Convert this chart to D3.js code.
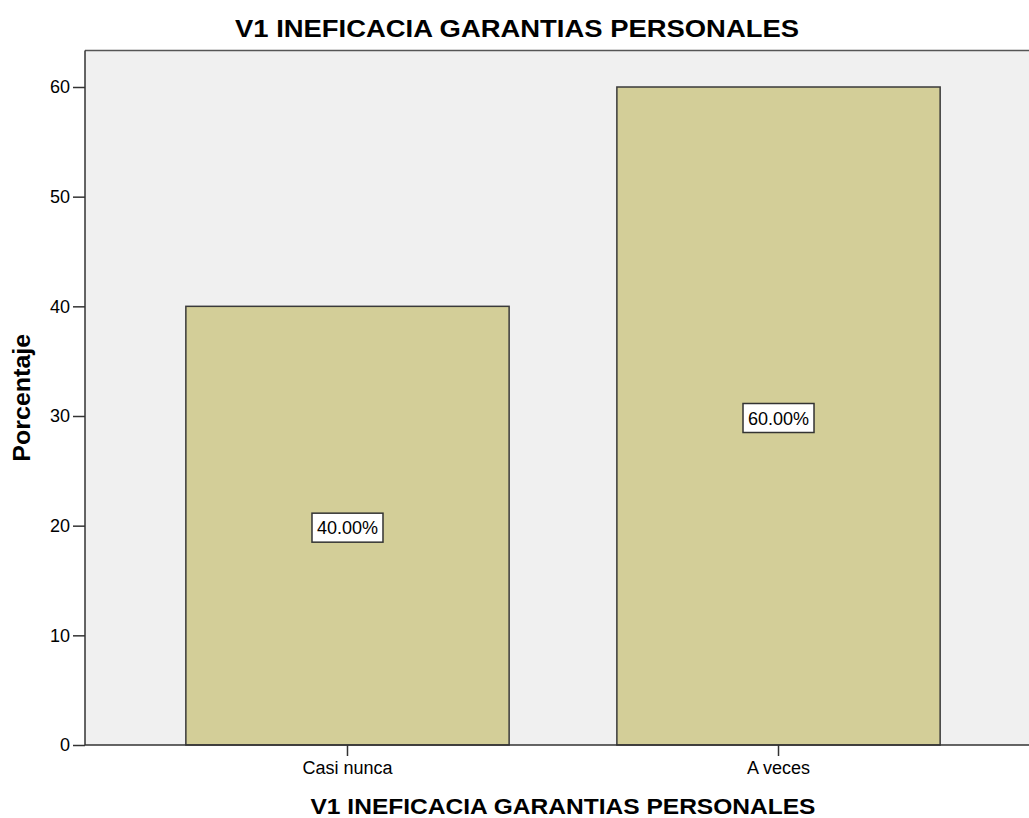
<!DOCTYPE html>
<html>
<head>
<meta charset="utf-8">
<script src="https://cdn.jsdelivr.net/npm/d3@7"></script>
<style>
  body { margin: 0; background: #fff; }
  text { font-family: Arial, "Liberation Sans", sans-serif; fill: #000; }
</style>
</head>
<body>
<div id="chart"></div>
<script>
// data
var categories = ["Casi nunca", "A veces"];
var percents = [40, 60];
var yTicks = [0, 10, 20, 30, 40, 50, 60];

var chartTitle = "V1 INEFICACIA GARANTIAS PERSONALES";
var xTitle = "V1 INEFICACIA GARANTIAS PERSONALES";
var yTitle = "Porcentaje";

var svgWidth = 1029;
var svgHeight = 818;

var plot = { left: 85, top: 50.5, right: 1041, bottom: 745 };

var svg = d3.select("#chart")
    .append("svg")
    .attr("width", svgWidth)
    .attr("height", svgHeight);

var xScale = d3.scaleBand()
    .domain(categories)
    .range([plot.left, plot.right])
    .paddingInner(0.25)
    .paddingOuter(0.234);

var yScale = d3.scaleLinear()
    .domain([0, 60])
    .range([plot.bottom, plot.bottom - 658]);

// plot background
svg.append("rect")
    .attr("x", plot.left)
    .attr("y", plot.top)
    .attr("width", plot.right - plot.left)
    .attr("height", plot.bottom - plot.top)
    .attr("fill", "#f0f0f0");

// top frame line
svg.append("line")
    .attr("x1", plot.left).attr("x2", plot.right)
    .attr("y1", plot.top).attr("y2", plot.top)
    .attr("stroke", "#555")
    .attr("stroke-width", 1.5);

// bars
svg.selectAll("rect.bar")
    .data(percents)
    .enter()
    .append("rect")
    .attr("class", "bar")
    .attr("x", (d, i) => xScale(categories[i]))
    .attr("y", d => yScale(d))
    .attr("width", xScale.bandwidth())
    .attr("height", d => yScale(0) - yScale(d))
    .attr("fill", "#d3ce98")
    .attr("stroke", "#3a3a3a")
    .attr("stroke-width", 1.5);

// y axis
var leftAxis = d3.axisLeft(yScale)
    .tickValues(yTicks)
    .tickSize(12)
    .tickPadding(3);

var yAxisG = svg.append("g")
    .attr("transform", `translate(${plot.left},0)`)
    .call(leftAxis);
yAxisG.select(".domain")
    .attr("d", `M0,${plot.top}V${plot.bottom}`)
    .attr("stroke", "#333")
    .attr("stroke-width", 1.5);
yAxisG.selectAll(".tick line").attr("stroke", "#333").attr("stroke-width", 1.5);
yAxisG.selectAll(".tick text")
    .attr("font-size", 18)
    .attr("font-family", "Arial, 'Liberation Sans', sans-serif")
    .attr("fill", "#222");

// x axis
var bottomAxis = d3.axisBottom(xScale)
    .tickSize(11)
    .tickPadding(5);

var xAxisG = svg.append("g")
    .attr("transform", `translate(0,${plot.bottom})`)
    .call(bottomAxis);
xAxisG.select(".domain")
    .attr("d", `M${plot.left},0H${svgWidth}`)
    .attr("stroke", "#333")
    .attr("stroke-width", 1.5);
xAxisG.selectAll(".tick line").attr("stroke", "#333").attr("stroke-width", 1.5);
xAxisG.selectAll(".tick text")
    .attr("font-size", 18)
    .attr("font-family", "Arial, 'Liberation Sans', sans-serif")
    .attr("fill", "#222");

// value labels in boxes
var labels = svg.append("g").selectAll("g")
    .data(percents)
    .enter()
    .append("g")
    .attr("transform", (d, i) =>
        `translate(${xScale(categories[i]) + xScale.bandwidth() / 2},${yScale(d / 2) + 2})`);

labels.append("rect")
    .attr("x", -35.5)
    .attr("y", -14.5)
    .attr("width", 71)
    .attr("height", 29)
    .attr("fill", "#fff")
    .attr("stroke", "#333")
    .attr("stroke-width", 1.5);

labels.append("text")
    .text(d => d.toFixed(2) + "%")
    .attr("text-anchor", "middle")
    .attr("y", 6.5)
    .attr("font-size", 18)
    .attr("fill", "#111");

// titles
svg.append("text")
    .text(chartTitle)
    .attr("x", 517)
    .attr("y", 37)
    .attr("text-anchor", "middle")
    .attr("font-size", 23)
    .attr("font-weight", "bold")
    .attr("textLength", 564)
    .attr("lengthAdjust", "spacingAndGlyphs");

svg.append("text")
    .text(xTitle)
    .attr("x", (plot.left + plot.right) / 2)
    .attr("y", 814)
    .attr("text-anchor", "middle")
    .attr("font-size", 22)
    .attr("font-weight", "bold")
    .attr("textLength", 505)
    .attr("lengthAdjust", "spacingAndGlyphs");

svg.append("text")
    .text(yTitle)
    .attr("transform", `translate(30,${(plot.top + plot.bottom) / 2}) rotate(-90)`)
    .attr("text-anchor", "middle")
    .attr("font-size", 24)
    .attr("font-weight", "bold")
    .attr("textLength", 128)
    .attr("lengthAdjust", "spacingAndGlyphs");
</script>
</body>
</html>
